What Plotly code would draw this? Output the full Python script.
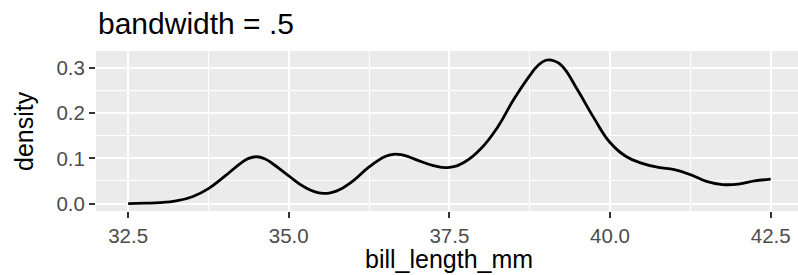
import plotly.graph_objects as go

# Density curve (bill_length_mm, bandwidth = .5)
bill_length_mm = [32.5, 32.75, 33.0, 33.25, 33.5, 33.75, 34.0, 34.25, 34.375, 34.5,
                  34.625, 34.75, 35.0, 35.25, 35.5, 35.75, 36.0, 36.25, 36.5, 36.625,
                  36.75, 36.875, 37.0, 37.25, 37.5, 37.75, 38.0, 38.25, 38.5, 38.75,
                  38.875, 39.0, 39.125, 39.25, 39.5, 39.75, 40.0, 40.25, 40.5, 40.75,
                  41.0, 41.25, 41.5, 41.75, 42.0, 42.25, 42.5]
density = [0.0, 0.0008, 0.002, 0.006, 0.015, 0.033, 0.060, 0.089, 0.100, 0.1035,
           0.099, 0.088, 0.061, 0.036, 0.023, 0.028, 0.050, 0.081, 0.104, 0.109,
           0.108, 0.103, 0.096, 0.084, 0.080, 0.093, 0.123, 0.169, 0.230, 0.283,
           0.305, 0.317, 0.316, 0.305, 0.250, 0.189, 0.135, 0.104, 0.089, 0.080,
           0.075, 0.064, 0.049, 0.042, 0.043, 0.050, 0.054]

x_ticks = [32.5, 35.0, 37.5, 40.0, 42.5]
y_ticks = [0.0, 0.1, 0.2, 0.3]

FONT = "Liberation Sans, Arial, sans-serif"

fig = go.Figure()
fig.add_trace(go.Scatter(
    x=bill_length_mm, y=density, mode="lines",
    line=dict(color="black", width=2.8, shape="spline", smoothing=1.3),
    hoverinfo="skip", showlegend=False,
))

axis_common = dict(
    showgrid=True, gridcolor="white", gridwidth=2.2,
    zeroline=False, showline=False,
    ticks="outside", ticklen=6, tickwidth=2, tickcolor="#333333",
    tickfont=dict(family=FONT, size=20.5, color="#4D4D4D"),
    tickformat=".1f", automargin=False,
)

fig.update_xaxes(
    range=[32.0, 42.925], tickvals=x_ticks,
    minor=dict(tickvals=[33.75, 36.25, 38.75, 41.25], showgrid=True,
               gridcolor="white", gridwidth=1.1, ticks=""),
    **axis_common,
)
fig.update_yaxes(
    range=[-0.0165, 0.3375], tickvals=y_ticks,
    minor=dict(tickvals=[0.05, 0.15, 0.25], showgrid=True,
               gridcolor="white", gridwidth=1.1, ticks=""),
    **axis_common,
)

fig.update_layout(
    width=798, height=275,
    margin=dict(l=96, r=0, t=51, b=64.3, pad=0),
    paper_bgcolor="white", plot_bgcolor="#EBEBEB",
    font=dict(family=FONT, color="black"),
    annotations=[
        dict(text="bandwidth = .5", xref="paper", yref="paper",
             x=0.0, y=1.169, xanchor="left", yanchor="middle",
             showarrow=False, font=dict(family=FONT, size=30, color="black")),
        dict(text="bill_length_mm", xref="paper", yref="paper",
             x=0.5034, y=-0.302, xanchor="center", yanchor="middle",
             showarrow=False, font=dict(family=FONT, size=25, color="black")),
        dict(text="density", xref="paper", yref="paper",
             x=-0.1026, y=0.5, xanchor="center", yanchor="middle", textangle=-90,
             showarrow=False, font=dict(family=FONT, size=25, color="black")),
    ],
)

fig.write_html(
    "out.html",
    config={"displayModeBar": False},
    post_script="document.body.style.margin='0';document.body.style.overflow='hidden';",
)
